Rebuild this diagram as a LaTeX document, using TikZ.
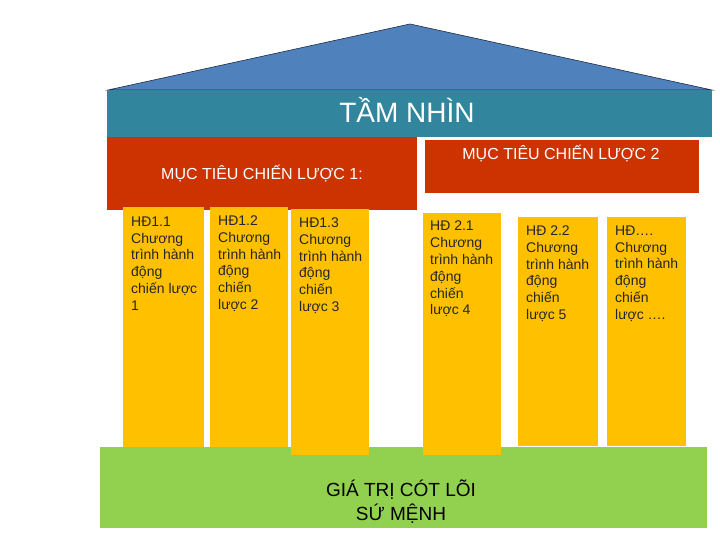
\documentclass[tikz,border=0pt]{standalone}
\usepackage{fontspec}
\setmainfont{Liberation Sans}
\definecolor{roofblue}{HTML}{4F81BD}
\definecolor{roofline}{HTML}{1F2A44}
\definecolor{tealc}{HTML}{31859C}
\definecolor{redc}{HTML}{CC3300}
\definecolor{yellowc}{HTML}{FFC000}
\definecolor{greenc}{HTML}{92D050}
\begin{document}
\begin{tikzpicture}[x=1pt,y=-1pt,
  pillartext/.style={anchor=north west,inner sep=0pt,align=left,text=black!85,
    font=\fontsize{14}{16.8}\selectfont},
  redtext/.style={anchor=base,inner sep=0pt,text=white,font=\fontsize{16}{19}\selectfont},
]
\useasboundingbox (0,0) rectangle (720,540);
\fill[white] (0,0) rectangle (720,540);
% roof
\filldraw[fill=roofblue,draw=roofline,line width=0.6pt] (108,90) -- (410,24) -- (712,90) -- cycle;
% vision band
\fill[tealc] (107,90.3) rectangle (712,137);
\node[anchor=base,inner sep=0pt,text=white,font=\fontsize{28}{30}\selectfont] (vision) at (407,123) {TẦM NHÌN};
% strategic goals
\fill[redc] (107,137) rectangle (417,210);
\node[redtext] (goal1) at (262,180) {MỤC TIÊU CHIẾN LƯỢC 1:};
\fill[redc] (425,140) rectangle (699,193);
\node[redtext] (goal2) at (561,160) {MỤC TIÊU CHIẾN LƯỢC 2};
% core values base
\fill[greenc] (100,447) rectangle (707,528);
\node[anchor=base,inner sep=0pt,align=center,text=black,font=\fontsize{19}{24}\selectfont] (base) at (401,520) {GIÁ TRỊ CÓT LÕI\\SỨ MỆNH};
% pillars
\fill[yellowc] (123,207) rectangle (204,447);
\fill[yellowc] (210,207) rectangle (288,447);
\fill[yellowc] (291,209) rectangle (369,455);
\fill[yellowc] (423,213) rectangle (501,455);
\fill[yellowc] (518,217) rectangle (598,446);
\fill[yellowc] (607,217) rectangle (686,446);
\node[pillartext] (h11) at (131,216.5) {HĐ1.1\\Chương\\trình hành\\động\\chiến lược\\1};
\node[pillartext] (h12) at (218,215.5) {HĐ1.2\\Chương\\trình hành\\động\\chiến\\lược 2};
\node[pillartext] (h13) at (299,217.5) {HĐ1.3\\Chương\\trình hành\\động\\chiến\\lược 3};
\node[pillartext] (h21) at (430,221) {HĐ 2.1\\Chương\\trình hành\\động\\chiến\\lược 4};
\node[pillartext] (h22) at (526,225.5) {HĐ 2.2\\Chương\\trình hành\\động\\chiến\\lược 5};
\node[pillartext] (h2x) at (615,225.5) {HĐ….\\Chương\\trình hành\\động\\chiến\\lược ….};
\end{tikzpicture}
\end{document}
